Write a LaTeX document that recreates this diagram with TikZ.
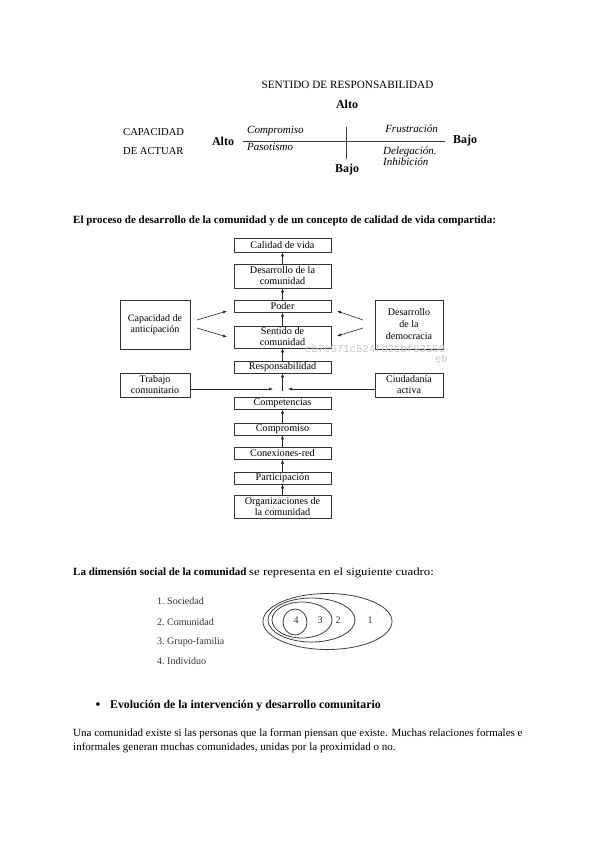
\documentclass[tikz,border=0pt]{standalone}
\usepackage{fontspec}
\setmainfont{Liberation Serif}
\setmonofont{Liberation Mono}
\usetikzlibrary{arrows.meta}
\begin{document}
\begin{tikzpicture}[x=1pt,y=-1pt,
  box/.style={draw=black!80, line width=0.7pt, minimum width=97pt, inner sep=0pt, align=center, font=\fontsize{10.2}{11}\selectfont},
  sbox/.style={draw=black!80, line width=0.7pt, inner sep=0pt, align=center, font=\fontsize{10}{11}\selectfont},
  arr/.style={-{Latex[length=4pt,width=3.2pt]}, line width=0.6pt, black!85},
  caps/.style={inner sep=0pt, font=\fontsize{10.6}{19}\selectfont},
  bl/.style={inner sep=0pt, font=\bfseries\fontsize{12}{14}\selectfont},
  it/.style={inner sep=0pt, font=\itshape\fontsize{11}{9}\selectfont},
  txt/.style={inner sep=0pt, anchor=west, font=\fontsize{10.5}{12}\selectfont},
  lst/.style={inner sep=0pt, anchor=west, font=\fontsize{10}{12}\selectfont, black!80},
  num/.style={inner sep=0pt, font=\fontsize{10}{12}\selectfont, black!80},
  axis/.style={line width=1pt, black!75}
]
\fill[white] (0,0) rectangle (600,848);
\useasboundingbox (0,0) rectangle (600,848);

% ---------- quadrant diagram ----------
\node[caps, font=\fontsize{11.2}{13}\selectfont] (sr) at (347.5,85) {SENTIDO DE RESPONSABILIDAD};
\node[bl] (altot) at (347,104) {Alto};
\node[bl] (bajob) at (347,170) {Bajo};
\node[bl] (altol) at (223,141) {Alto};
\node[bl] (bajor) at (465,141) {Bajo};
\coordinate (vt) at (346,127);
\coordinate (vb) at (346,159);
\coordinate (hl) at (243,141);
\coordinate (hr) at (445,141);
\draw[axis] (vt) -- (vb);
\draw[axis] (hl) -- (hr);
\node[caps, anchor=west, align=left] (cap2) at (123,141.5) {CAPACIDAD\\DE ACTUAR};
\node[it, anchor=west] (cpm) at (247,131) {Compromiso};
\node[it, anchor=west] (pas) at (247,147) {Pasotismo};
\node[it, anchor=east] (fru) at (438,129) {Frustración};
\node[it, anchor=west, align=left] (del) at (383,156.5) {Delegación.\\Inhibición};

% ---------- heading 1 ----------
\node[txt, font=\bfseries\fontsize{11}{12}\selectfont] (h1) at (73,221) {El proceso de desarrollo de la comunidad y de un concepto de calidad de vida compartida:};

% ---------- process diagram ----------
\node[box, minimum height=14pt] (cal) at (282.5,245) {Calidad de vida};
\node[box, minimum height=24pt] (des) at (282.5,276) {Desarrollo de la\\comunidad};
\node[box, minimum height=11.5pt] (pod) at (282.5,306.5) {Poder};
\node[box, minimum height=22pt] (sen) at (282.5,337) {Sentido de\\comunidad};
\node[box, minimum height=12pt] (res) at (282.5,367) {Responsabilidad};
\node[box, minimum height=11.5pt] (cpt) at (282.5,403.5) {Competencias};
\node[box, minimum height=12pt] (cmp) at (282.5,429) {Compromiso};
\node[box, minimum height=11.5pt] (con) at (282.5,453.5) {Conexiones-red};
\node[box, minimum height=12pt] (par) at (282.5,478) {Participación};
\node[box, minimum height=23pt] (org) at (282.5,506.5) {Organizaciones de\\la comunidad};

\node[sbox, minimum width=70pt, minimum height=49pt] (cap) at (155,324.5) {Capacidad de\\anticipación};
\node[sbox, minimum width=68pt, minimum height=49pt, font=\fontsize{10}{12}\selectfont] (dem) at (409,324.5) {Desarrollo\\de la\\democracia};
\node[sbox, minimum width=70pt, minimum height=24pt] (tra) at (155,385) {Trabajo\\comunitario};
\node[sbox, minimum width=68pt, minimum height=24pt] (ciu) at (409,385) {Ciudadanía\\activa};

\draw[arr] (des.north) -- (cal.south);
\draw[arr] (pod.north) -- (des.south);
\draw[arr] (sen.north) -- (pod.south);
\draw[arr] (res.north) -- (sen.south);
\coordinate (jn) at (282.5,391);
\draw[arr] (jn) -- (res.south);
\draw[arr] (cmp.north) -- (cpt.south);
\draw[arr] (con.north) -- (cmp.south);
\draw[arr] (par.north) -- (con.south);
\draw[arr] (org.north) -- (par.south);

\coordinate (jl) at (273,389);
\coordinate (jr) at (288,389);
\draw[arr] ([yshift=-4pt]tra.east) -- (jl);
\draw[arr] ([yshift=-4pt]ciu.west) -- (jr);

\coordinate (a1s) at (197,320); \coordinate (a1e) at (227,311);
\coordinate (a2s) at (197,328); \coordinate (a2e) at (227,337);
\coordinate (b1s) at (363,320); \coordinate (b1e) at (337,311);
\coordinate (b2s) at (363,328); \coordinate (b2e) at (337,336);
\draw[arr] (a1s) -- (a1e);
\draw[arr] (a2s) -- (a2e);
\draw[arr] (b1s) -- (b1e);
\draw[arr] (b2s) -- (b2e);

\node[inner sep=0pt, anchor=west, text=black!22, font=\ttfamily\fontsize{10.6}{12}\selectfont] (wm) at (305,348.5) {cb7c571c524fd2bbf93550};
\node[inner sep=0pt, anchor=east, text=black!22, font=\ttfamily\fontsize{10.6}{12}\selectfont] (wm2) at (448,359) {eb};

% ---------- heading 2 ----------
\node[txt, font=\fontsize{11}{12}\selectfont] (h2) at (73,573) {\textbf{La dimensión social de la comunidad} \scalebox{1.16}[1]{se representa en el siguiente cuadro:}};

\node[lst] (l1) at (157,601) {\makebox[10pt][l]{1.}Sociedad};
\node[lst] (l2) at (157,622) {\makebox[10pt][l]{2.}Comunidad};
\node[lst] (l3) at (157,642) {\makebox[10pt][l]{3.}Grupo-familia};
\node[lst] (l4) at (157,661) {\makebox[10pt][l]{4.}Individuo};

\draw[line width=0.8pt, black!75] (327.5,621.5) ellipse [x radius=64.5pt, y radius=28pt];
\draw[line width=0.8pt, black!75] (311.5,620) ellipse [x radius=43.5pt, y radius=22pt];
\draw[line width=0.8pt, black!75] (302,620) ellipse [x radius=30pt, y radius=18pt];
\draw[line width=0.8pt, black!75] (295,622) ellipse [x radius=12pt, y radius=13pt];
\node[num] (n4) at (296,620) {4};
\node[num] (n3) at (320,620) {3};
\node[num] (n2) at (338,620) {2};
\node[num] (n1) at (370,620) {1};

% ---------- heading 3 ----------
\node[inner sep=0pt, font=\fontsize{15}{15}\selectfont] (bul) at (98,706) {•};
\node[txt, font=\bfseries\fontsize{11.8}{13}\selectfont] (h3) at (110,706) {Evolución de la intervención y desarrollo comunitario};

\node[txt, align=left, anchor=north west, font=\fontsize{11}{14}\selectfont] (par1) at (73,729) {Una comunidad existe si las personas que la forman piensan que existe. Muchas relaciones formales e\\informales generan muchas comunidades, unidas por la proximidad o no.};
\end{tikzpicture}
\end{document}
